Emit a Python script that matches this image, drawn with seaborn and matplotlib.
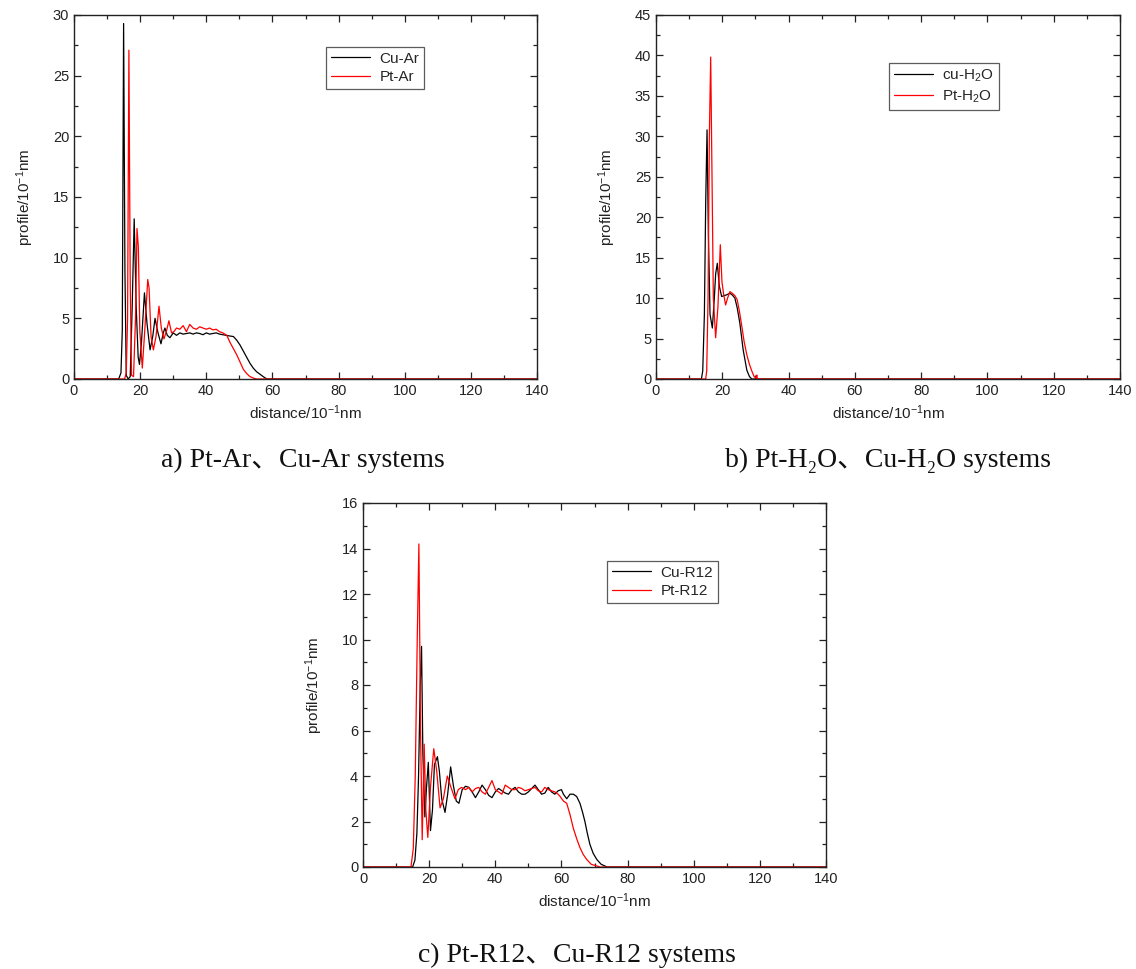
import matplotlib
matplotlib.use("Agg")
import matplotlib.pyplot as plt
from matplotlib import font_manager
from matplotlib.ticker import MultipleLocator
import seaborn as sns
import pandas as pd

# ---------------- data ----------------
# panel a
x_a_cu = [0, 13.5, 14.2, 14.6, 15.0, 15.4, 15.8, 16.4, 17.0, 17.6,
          18.2, 18.8, 19.4, 19.8, 20.4, 21.3, 22.1, 23.0, 23.8, 24.5,
          25.4, 26.3, 27.0, 27.5, 28.2, 29.0, 30, 31, 32, 33,
          34, 35, 36, 37, 38, 39, 40, 41, 42, 43,
          44, 45, 46, 47, 48.2, 49.2, 50.2, 51.2, 52.2, 53.2,
          54.2, 55.2, 56.2, 57.2, 58.3, 140]
y_a_cu = [0, 0, 0.5, 4, 29.3, 9, 0.3, 0, 0.2, 6,
          13.2, 6, 1.8, 1.2, 3, 7.1, 4.5, 2.4, 3.5, 5.0,
          3.8, 2.9, 3.8, 4.2, 3.6, 3.4, 3.8, 3.6, 3.8, 3.7,
          3.75, 3.8, 3.7, 3.8, 3.75, 3.65, 3.8, 3.7, 3.75, 3.8,
          3.7, 3.65, 3.6, 3.55, 3.5, 3.2, 2.8, 2.3, 1.8, 1.3,
          0.9, 0.6, 0.4, 0.2, 0, 0]
x_a_pt = [0, 15.3, 15.8, 16.2, 16.6, 17.0, 17.4, 18.0, 18.6, 19.05,
          19.45, 19.9, 20.65, 21.4, 22.3, 22.7, 23.3, 24.0, 24.8, 25.7,
          26.4, 27.2, 28.0, 28.7, 29.5, 30.2, 31, 32, 33, 34,
          35, 36, 37, 38, 39, 40, 41, 42, 43, 44,
          45, 46.2, 47.2, 48.2, 49.2, 50.2, 51.2, 52.2, 53.2, 54.2,
          55.2, 140]
y_a_pt = [0, 0, 0.5, 5, 27.1, 8, 0.3, 0.2, 5, 12.4,
          10.9, 4, 0.9, 4, 8.2, 7.5, 3.5, 2.4, 3.5, 6.0,
          4.2, 3.3, 4.0, 4.8, 3.8, 3.9, 4.2, 4.1, 4.4, 3.9,
          4.5, 4.2, 4.1, 4.3, 4.2, 4.1, 4.2, 4.05, 4.1, 3.9,
          3.8, 3.6, 3.0, 2.5, 2.0, 1.4, 0.8, 0.45, 0.2, 0.08,
          0, 0]

# panel b
x_b_cu = [0, 13.7, 14.1, 14.6, 15.0, 15.4, 15.8, 16.3, 17.0, 17.6,
          18.0, 18.5, 19.1, 19.8, 20.5, 21.3, 22.3, 23.0, 23.8, 24.5,
          25.3, 26.3, 27.4, 28.2, 28.9, 140]
y_b_cu = [0, 0, 1, 8, 22, 30.8, 18, 8, 6.3, 10,
          13, 14.3, 11.5, 10.2, 10.3, 10.4, 10.6, 10.4, 10.0, 8.8,
          6.9, 3.6, 1.1, 0.3, 0, 0]
x_b_pt = [0, 15.0, 15.3, 15.7, 16.1, 16.5, 16.9, 17.3, 18.0, 18.7,
          19.4, 19.9, 20.4, 21.0, 21.6, 22.3, 23.0, 23.8, 24.5, 25.2,
          25.9, 26.6, 27.4, 28.2, 28.9, 29.6, 30.2, 30.4, 30.6, 140]
y_b_pt = [0, 0, 1, 10, 30, 39.8, 25, 10, 5.1, 9,
          16.6, 12, 10.5, 9.15, 10.0, 10.8, 10.6, 10.3, 9.8, 8.3,
          6.5, 4.6, 3.0, 1.8, 1.0, 0.3, 0.1, 0.5, 0, 0]

# panel c
x_c_cu = [0, 15.0, 15.7, 16.3, 16.8, 17.3, 17.7, 18.1, 18.7, 19.2,
          19.75, 20.4, 21.0, 21.6, 22.5, 23.1, 23.8, 24.8, 25.6, 26.5,
          27.3, 28.2, 29.0, 30.0, 31.0, 32, 33, 34, 35, 36,
          37, 38, 39, 40, 41, 42, 43, 44, 45, 46,
          47, 48, 49, 50, 51, 52, 53, 54, 55, 56,
          57, 58, 59, 60, 60.6, 61.6, 62.6, 63.6, 64.6, 65.6,
          66.4, 67.1, 67.8, 68.6, 69.6, 70.7, 72, 73.8, 140]
y_c_cu = [0, 0, 0.3, 1.5, 4, 8, 9.7, 5, 2.2, 3.5,
          4.6, 1.6, 2.5, 4.5, 4.85, 4.2, 3.0, 2.4, 3.2, 4.4,
          3.6, 2.9, 2.8, 3.4, 3.55, 3.5, 3.3, 3.05, 3.3, 3.6,
          3.4, 3.15, 3.05, 3.3, 3.45, 3.35, 3.25, 3.2, 3.4, 3.5,
          3.3, 3.2, 3.2, 3.3, 3.45, 3.6, 3.4, 3.2, 3.25, 3.5,
          3.3, 3.2, 3.35, 3.4, 3.2, 3.0, 3.2, 3.2, 3.1, 2.8,
          2.4, 2.0, 1.5, 1.0, 0.6, 0.33, 0.12, 0, 0]
x_c_pt = [0, 14.5, 15.2, 15.8, 16.4, 16.9, 17.4, 17.9, 18.5, 19.0,
          19.6, 20.4, 21.4, 22.3, 23.3, 24.3, 25.5, 26.6, 27.8, 28.8,
          29.8, 31, 32, 33, 34, 35, 36, 37, 38, 39,
          40, 41, 42, 43, 44, 45, 46, 47, 48, 49,
          50, 51, 52, 53, 54, 55, 56, 57, 58, 59,
          59.6, 60.6, 61.6, 62.6, 63.6, 64.6, 65.6, 66.6, 67.6, 69.0,
          71.7, 140]
y_c_pt = [0, 0, 0.8, 4, 10, 14.2, 6, 1.2, 5.4, 2.5,
          1.3, 3.5, 5.2, 4.2, 2.6, 3.0, 4.0, 3.5, 3.0, 3.4,
          3.5, 3.4, 3.5, 3.3, 3.45, 3.5, 3.3, 3.2, 3.5, 3.8,
          3.4, 3.3, 3.2, 3.6, 3.5, 3.4, 3.4, 3.5, 3.45, 3.35,
          3.4, 3.45, 3.5, 3.35, 3.3, 3.5, 3.4, 3.35, 3.3, 3.2,
          3.1, 2.9, 2.8, 2.3, 1.7, 1.25, 0.85, 0.55, 0.34, 0.12,
          0, 0]

labels_a = ["Cu-Ar", "Pt-Ar"]
labels_b = ["cu-H$_2$O", "Pt-H$_2$O"]
labels_c = ["Cu-R12", "Pt-R12"]
captions = ["a) Pt-Ar\u3001Cu-Ar systems",
            "b) Pt-H\u2082O\u3001Cu-H\u2082O systems",
            "c) Pt-R12\u3001Cu-R12 systems"]
xlabel = "distance/10$^{-1}$nm"
ylabel = "profile/10$^{-1}$nm"

# ---------------- style ----------------
sns.set_style("ticks")
avail = {f.name for f in font_manager.fontManager.ttflist}
sans = "Liberation Sans Narrow" if "Liberation Sans Narrow" in avail else "Liberation Sans"
plt.rcParams["font.family"] = [sans, "DejaVu Sans"]
plt.rcParams["mathtext.fontset"] = "custom"
plt.rcParams["mathtext.rm"] = sans
plt.rcParams["mathtext.it"] = sans
plt.rcParams["mathtext.default"] = "regular"

W, H = 1136, 969
fig = plt.figure(figsize=(W / 100, H / 100), dpi=100)

def px_axes(l, t, r, b):
    return fig.add_axes([l / W, 1 - b / H, (r - l) / W, (b - t) / H])

panels = [
    dict(box=(74, 15, 537, 379), ymax=30, ymaj=5, ymin=2.5,
         data=[(x_a_cu, y_a_cu), (x_a_pt, y_a_pt)], labels=labels_a,
         leg=(326, 47), cap=captions[0], capxy=(303, 460)),
    dict(box=(656, 15, 1120, 379), ymax=45, ymaj=5, ymin=2.5,
         data=[(x_b_cu, y_b_cu), (x_b_pt, y_b_pt)], labels=labels_b,
         leg=(889, 63), cap=captions[1], capxy=(888, 460)),
    dict(box=(363, 503, 826, 867), ymax=16, ymaj=2, ymin=1,
         data=[(x_c_cu, y_c_cu), (x_c_pt, y_c_pt)], labels=labels_c,
         leg=(607, 561), cap=captions[2], capxy=(577, 955)),
]
colors = ["#000000", "#ff0000"]

for p in panels:
    ax = px_axes(*p["box"])
    for (xs, ys), lab, col in zip(p["data"], p["labels"], colors):
        df = pd.DataFrame({"x": xs, "y": ys})
        sns.lineplot(data=df, x="x", y="y", ax=ax, color=col, linewidth=0.9,
                     label=lab, sort=False, estimator=None)
    ax.set_xlim(0, 140)
    ax.set_ylim(0, p["ymax"])
    ax.xaxis.set_major_locator(MultipleLocator(20))
    ax.xaxis.set_minor_locator(MultipleLocator(10))
    ax.yaxis.set_major_locator(MultipleLocator(p["ymaj"]))
    ax.yaxis.set_minor_locator(MultipleLocator(p["ymin"]))
    ax.tick_params(which="both", direction="in", top=True, right=True,
                   labelsize=10.5, width=0.9, colors="#222222", labelcolor="#222222")
    ax.tick_params(which="major", length=5)
    ax.tick_params(which="minor", length=3)
    for s in ax.spines.values():
        s.set_visible(True)
        s.set_linewidth(1.0)
        s.set_color("#222222")
    ax.set_xlabel(xlabel, fontsize=11, labelpad=4, color="#222222")
    ax.set_ylabel(ylabel, fontsize=11, labelpad=12, color="#222222")
    lx, ly = p["leg"]
    leg = ax.legend(loc="upper left", bbox_to_anchor=(lx / W, 1 - ly / H),
                    bbox_transform=fig.transFigure, borderaxespad=0,
                    fontsize=11, frameon=True, fancybox=False, shadow=False,
                    handlelength=2.6, handletextpad=0.6, borderpad=0.3,
                    labelspacing=0.3)
    leg.get_frame().set_edgecolor("#333333")
    leg.get_frame().set_linewidth(0.9)
    cx, cy = p["capxy"]
    fig.text(cx / W, 1 - cy / H, p["cap"], ha="center", va="center",
             fontsize=20, family=["Liberation Serif", "Noto Sans CJK SC", "DejaVu Serif"],
             color="#111111")

fig.savefig("out.png", dpi=100)
